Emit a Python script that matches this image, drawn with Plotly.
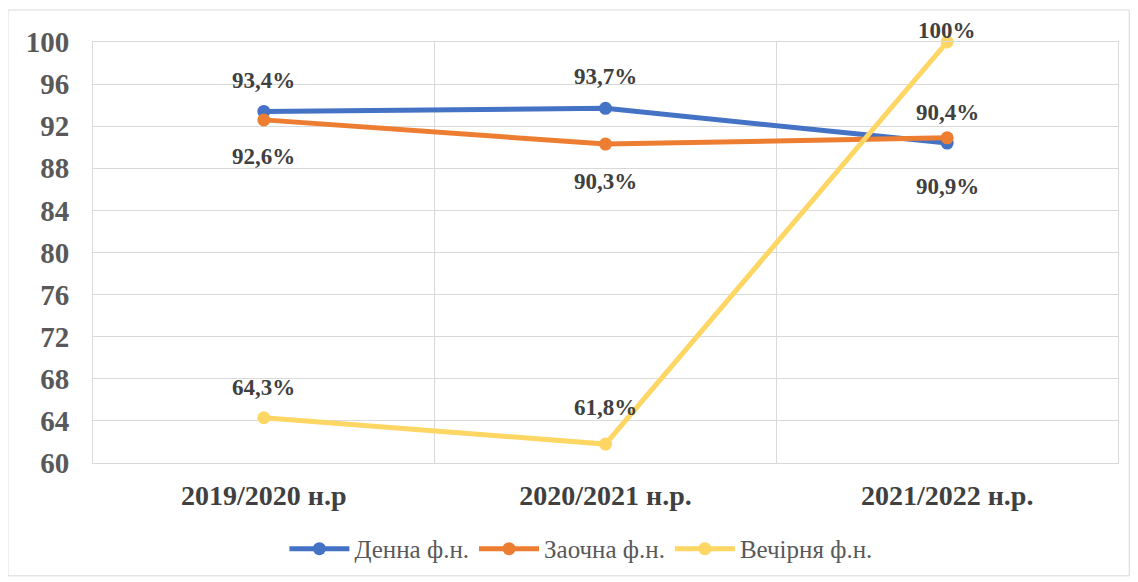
import plotly.graph_objects as go

categories = ["2019/2020 н.р", "2020/2021 н.р.", "2021/2022 н.р."]
series_names = ["Денна ф.н.", "Заочна ф.н.", "Вечірня ф.н."]
denna = [93.4, 93.7, 90.4]
zaochna = [92.6, 90.3, 90.9]
vechirnia = [64.3, 61.8, 100.0]
denna_labels = ["93,4%", "93,7%", "90,4%"]
zaochna_labels = ["92,6%", "90,3%", "90,9%"]
vechirnia_labels = ["64,3%", "61,8%", "100%"]
y_ticks = [60, 64, 68, 72, 76, 80, 84, 88, 92, 96, 100]

# style: colours and label offsets (pixels)
colors = ["#4472C4", "#ED7D31", "#FDD663"]
label_shifts = [[31, 32, 31], [-37, -37, -49], [30, 37, 12]]

fig = go.Figure()
all_vals = [denna, zaochna, vechirnia]
all_labels = [denna_labels, zaochna_labels, vechirnia_labels]
for name, vals, col in zip(series_names, all_vals, colors):
    fig.add_trace(go.Scatter(
        x=categories, y=vals, name=name, mode="lines+markers",
        line=dict(color=col, width=5),
        marker=dict(color=col, size=13),
        cliponaxis=False,
    ))

annotations = []
for vals, labs, shifts in zip(all_vals, all_labels, label_shifts):
    for c, v, t, sh in zip(categories, vals, labs, shifts):
        annotations.append(dict(
            x=c, y=v, xref="x", yref="y", text=t, showarrow=False,
            yshift=sh,
            font=dict(family="Liberation Serif", size=23, color="#404040", weight="bold"),
        ))

# page body has an 8px margin, so the figure is 8px smaller and margins shifted
fig.update_layout(
    width=1130, height=574,
    paper_bgcolor="white", plot_bgcolor="white",
    margin=dict(l=85, r=20, t=34, b=119, autoexpand=False),
    annotations=annotations,
    showlegend=True,
    legend=dict(orientation="h", x=0.476, xanchor="center", y=-0.204, yanchor="middle",
                font=dict(family="Liberation Serif", size=25, color="#595959"),
                itemwidth=60, traceorder="normal"),
    shapes=[dict(type="rect", xref="paper", yref="paper",
                 x0=-0.083, x1=1.011, y0=-0.268, y1=1.076,
                 line=dict(color="#d9d9d9", width=1))],
)
fig.update_xaxes(
    type="category", range=[-0.5, 2.5], tickson="boundaries",
    showgrid=True, gridcolor="#d9d9d9", gridwidth=1,
    showline=True, linecolor="#d9d9d9", mirror=True,
    ticks="", ticklen=0, automargin=False, ticklabelstandoff=7,
    tickfont=dict(family="Liberation Serif", size=28, color="#404040", weight="bold"),
)
fig.update_yaxes(
    range=[60, 100], tickvals=y_ticks,
    showgrid=True, gridcolor="#d9d9d9", gridwidth=1,
    showline=True, linecolor="#d9d9d9", mirror=True,
    zeroline=False, ticks="", ticklabelstandoff=17, automargin=False,
    tickfont=dict(family="Liberation Serif", size=29, color="#595959", weight="bold"),
)

fig.write_html("out.html")
